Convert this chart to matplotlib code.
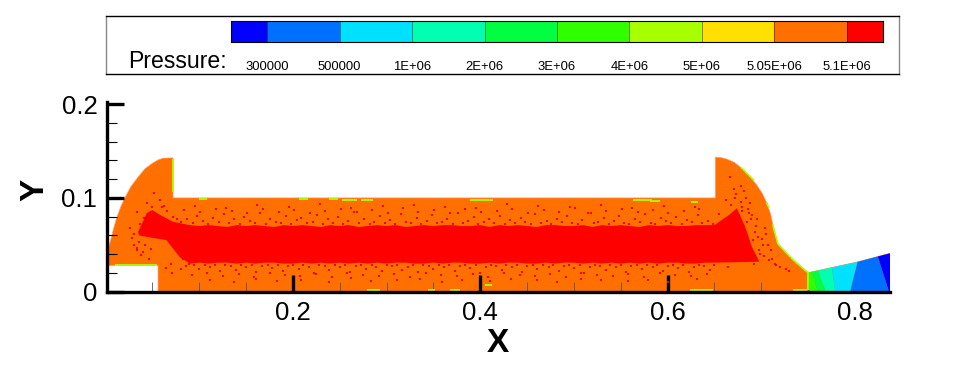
import matplotlib
matplotlib.use("Agg")
import matplotlib.pyplot as plt
from matplotlib.patches import Polygon
from matplotlib.ticker import MultipleLocator, FixedLocator

plt.rcParams["font.family"] = ["Liberation Sans", "DejaVu Sans"]

# contour legend
level_labels = ["300000", "500000", "1E+06", "2E+06", "3E+06", "4E+06", "5E+06", "5.05E+06", "5.1E+06"]
level_colors = ["#0000ff", "#0070ff", "#00e0ff", "#00ffb0", "#00ff40", "#30ff00", "#a8ff00", "#ffe000", "#ff7000", "#ff0000"]

# flow domain outline
wall_x = [0.0015, 0.002, 0.004, 0.0064, 0.009, 0.012, 0.016, 0.0206, 0.027, 0.0345, 0.042, 0.05, 0.056, 0.0613, 0.067,
          0.072, 0.072, 0.651, 0.651, 0.657, 0.663, 0.671, 0.679, 0.687, 0.695, 0.701, 0.706, 0.71, 0.7125, 0.715,
          0.718, 0.734, 0.75, 0.802, 0.8375, 0.8375, 0.056, 0.056, 0.0015]
wall_y = [0.028, 0.041, 0.05, 0.0587, 0.069, 0.079, 0.09, 0.1, 0.112, 0.122, 0.131, 0.137, 0.1405, 0.1423, 0.1426,
          0.1426, 0.1, 0.1, 0.1435, 0.143, 0.1415, 0.138, 0.132, 0.124, 0.114, 0.105, 0.0946, 0.083, 0.071, 0.061,
          0.0508, 0.034, 0.0203, 0.0316, 0.041, 0.0, 0.0, 0.028, 0.028]

# red core, left end, upper edge, right end, lower edge
core_upper_x = [0.09, 0.10, 0.11, 0.12, 0.13, 0.14, 0.15, 0.16, 0.17, 0.18, 0.19, 0.20, 0.21, 0.22, 0.23, 0.24,
                0.25, 0.26, 0.27, 0.28, 0.29, 0.30, 0.31, 0.32, 0.33, 0.34, 0.35, 0.36, 0.37, 0.38, 0.39, 0.40,
                0.41, 0.42, 0.43, 0.44, 0.45, 0.46, 0.47, 0.48, 0.49, 0.50, 0.51, 0.52, 0.53, 0.54, 0.55, 0.56,
                0.57, 0.58, 0.59, 0.60, 0.61, 0.62, 0.63, 0.64, 0.65]
core_upper_y = [0.071, 0.070, 0.071, 0.070, 0.069, 0.071, 0.070, 0.071, 0.070, 0.069, 0.071, 0.070, 0.071, 0.070,
                0.069, 0.071, 0.070, 0.071, 0.069, 0.070, 0.071, 0.070, 0.071, 0.069, 0.070, 0.071, 0.070, 0.071,
                0.071, 0.070, 0.070, 0.071, 0.069, 0.071, 0.070, 0.071, 0.070, 0.069, 0.071, 0.071, 0.070, 0.070,
                0.071, 0.069, 0.071, 0.070, 0.071, 0.070, 0.069, 0.071, 0.070, 0.071, 0.070, 0.070, 0.071, 0.071, 0.071]
core_lower_y = [0.030, 0.031, 0.030, 0.031, 0.031, 0.030, 0.031, 0.030, 0.031, 0.031, 0.030, 0.030, 0.031, 0.030,
                0.031, 0.030, 0.031, 0.030, 0.031, 0.030, 0.031, 0.030, 0.031, 0.031, 0.030, 0.030, 0.031, 0.030,
                0.031, 0.031, 0.030, 0.030, 0.031, 0.030, 0.031, 0.031, 0.030, 0.030, 0.031, 0.030, 0.031, 0.031,
                0.030, 0.031, 0.030, 0.031, 0.030, 0.031, 0.030, 0.031, 0.030, 0.031, 0.031, 0.030, 0.030, 0.031, 0.031]
core_left_x = [0.079, 0.065, 0.047, 0.036, 0.0345, 0.04, 0.044, 0.05, 0.058, 0.072]
core_left_y = [0.037, 0.055, 0.058, 0.060, 0.0636, 0.075, 0.084, 0.087, 0.082, 0.0745]
core_right_x = [0.666, 0.674, 0.683, 0.69, 0.698]
core_right_y = [0.082, 0.089, 0.069, 0.048, 0.032]

# isolated red cells just above the core
speck_top_x = [0.081, 0.087, 0.093, 0.098, 0.104, 0.109, 0.115, 0.121, 0.126, 0.132, 0.137, 0.143, 0.148, 0.154, 0.159,
               0.165, 0.171, 0.176, 0.182, 0.187, 0.193, 0.198, 0.204, 0.209, 0.215, 0.221, 0.226, 0.232, 0.237, 0.243,
               0.248, 0.254, 0.259, 0.265, 0.271, 0.276, 0.282, 0.287, 0.293, 0.298, 0.304, 0.309, 0.315, 0.321, 0.326,
               0.332, 0.337, 0.343, 0.348, 0.354, 0.359, 0.365, 0.371, 0.376, 0.382, 0.387, 0.393, 0.398, 0.404, 0.409,
               0.415, 0.421, 0.426, 0.432, 0.437, 0.443, 0.448, 0.454, 0.459, 0.465, 0.471, 0.476, 0.482, 0.487, 0.493,
               0.498, 0.504, 0.509, 0.515, 0.521, 0.526, 0.532, 0.537, 0.543, 0.548, 0.554, 0.559, 0.565, 0.571, 0.576,
               0.582, 0.587, 0.593, 0.598, 0.604, 0.609, 0.615, 0.621, 0.626, 0.632, 0.637, 0.643, 0.648,
               0.084, 0.101, 0.118, 0.135, 0.151, 0.168, 0.185, 0.201, 0.218, 0.234, 0.251, 0.268, 0.284, 0.301, 0.318,
               0.334, 0.351, 0.368, 0.384, 0.401, 0.418, 0.434, 0.451, 0.468, 0.484, 0.501, 0.518, 0.534, 0.551, 0.568,
               0.584, 0.601, 0.618, 0.634,
               0.095, 0.129, 0.162, 0.196, 0.229, 0.262, 0.296, 0.329, 0.362, 0.396, 0.429, 0.462, 0.496, 0.529, 0.562,
               0.596, 0.629]
speck_top_y = [0.074, 0.078, 0.073, 0.081, 0.075, 0.072, 0.079, 0.074, 0.083, 0.073, 0.077, 0.072, 0.08, 0.075, 0.073,
               0.084, 0.072, 0.078, 0.074, 0.073, 0.081, 0.072, 0.076, 0.079, 0.073, 0.074, 0.082, 0.072, 0.077, 0.073,
               0.08, 0.072, 0.075, 0.085, 0.073, 0.078, 0.072, 0.074, 0.081, 0.073, 0.076, 0.072, 0.083, 0.074, 0.073,
               0.079, 0.072, 0.075, 0.082, 0.073, 0.074, 0.077, 0.072, 0.084, 0.073, 0.075, 0.08, 0.072, 0.074, 0.078,
               0.073, 0.081, 0.072, 0.076, 0.073, 0.079, 0.074, 0.072, 0.083, 0.073, 0.075, 0.072, 0.078, 0.074, 0.081,
               0.073, 0.072, 0.076, 0.084, 0.073, 0.074, 0.079, 0.072, 0.075, 0.081, 0.073, 0.072, 0.077, 0.074, 0.083,
               0.073, 0.072, 0.079, 0.075, 0.073, 0.08, 0.072, 0.076, 0.074, 0.082, 0.073, 0.075, 0.072,
               0.087, 0.085, 0.088, 0.086, 0.084, 0.088, 0.085, 0.087, 0.084, 0.086, 0.088, 0.085, 0.087, 0.084, 0.089,
               0.085, 0.087, 0.084, 0.088, 0.085, 0.086, 0.088, 0.084, 0.087, 0.085, 0.089, 0.084, 0.086, 0.088, 0.085,
               0.087, 0.084, 0.086, 0.088,
               0.091, 0.089, 0.092, 0.09, 0.093, 0.089, 0.091, 0.092, 0.09, 0.089, 0.093, 0.091, 0.09, 0.092, 0.089,
               0.091, 0.09]

# isolated red cells just below the core
speck_low_x = [0.083, 0.089, 0.094, 0.1, 0.106, 0.111, 0.117, 0.122, 0.128, 0.134, 0.139, 0.145, 0.15, 0.156, 0.161,
               0.167, 0.173, 0.178, 0.184, 0.189, 0.195, 0.2, 0.206, 0.211, 0.217, 0.223, 0.228, 0.234, 0.239, 0.245,
               0.25, 0.256, 0.261, 0.267, 0.273, 0.278, 0.284, 0.289, 0.295, 0.3, 0.306, 0.311, 0.317, 0.323, 0.328,
               0.334, 0.339, 0.345, 0.35, 0.356, 0.361, 0.367, 0.373, 0.378, 0.384, 0.389, 0.395, 0.4, 0.406, 0.411,
               0.417, 0.423, 0.428, 0.434, 0.439, 0.445, 0.45, 0.456, 0.461, 0.467, 0.473, 0.478, 0.484, 0.489, 0.495,
               0.5, 0.506, 0.511, 0.517, 0.523, 0.528, 0.534, 0.539, 0.545, 0.55, 0.556, 0.561, 0.567, 0.573, 0.578,
               0.584, 0.589, 0.595, 0.6, 0.606, 0.611, 0.617, 0.623, 0.628, 0.634, 0.639, 0.645, 0.65,
               0.092, 0.108, 0.125, 0.142, 0.158, 0.175, 0.192, 0.208, 0.225, 0.242, 0.258, 0.275, 0.292, 0.308, 0.325,
               0.342, 0.358, 0.375, 0.392, 0.408, 0.425, 0.442, 0.458, 0.475, 0.492, 0.508, 0.525, 0.542, 0.558, 0.575,
               0.592, 0.608, 0.625, 0.642,
               0.112, 0.137, 0.161, 0.183, 0.209, 0.238, 0.262, 0.283, 0.311, 0.336, 0.359, 0.381, 0.41, 0.433, 0.461,
               0.482, 0.508, 0.529, 0.558, 0.579, 0.601, 0.631]
speck_low_y = [0.035, 0.03, 0.028, 0.024, 0.028, 0.026, 0.029, 0.022, 0.028, 0.027, 0.023, 0.029, 0.026, 0.028, 0.021,
               0.027, 0.029, 0.025, 0.028, 0.022, 0.027, 0.029, 0.024, 0.028, 0.026, 0.02, 0.029, 0.027, 0.023, 0.028,
               0.026, 0.029, 0.021, 0.027, 0.028, 0.024, 0.029, 0.026, 0.022, 0.028, 0.027, 0.029, 0.023, 0.026, 0.028,
               0.021, 0.029, 0.027, 0.024, 0.028, 0.026, 0.029, 0.022, 0.027, 0.028, 0.025, 0.029, 0.02, 0.026, 0.028,
               0.027, 0.023, 0.029, 0.026, 0.028, 0.021, 0.027, 0.029, 0.024, 0.028, 0.026, 0.029, 0.022, 0.027, 0.028,
               0.025, 0.029, 0.02, 0.026, 0.028, 0.027, 0.023, 0.029, 0.026, 0.028, 0.021, 0.027, 0.029, 0.024, 0.028,
               0.026, 0.029, 0.022, 0.027, 0.028, 0.025, 0.029, 0.021, 0.026, 0.028, 0.027, 0.023, 0.029,
               0.018, 0.02, 0.017, 0.019, 0.016, 0.02, 0.018, 0.017, 0.019, 0.016, 0.02, 0.018, 0.017, 0.019, 0.016,
               0.02, 0.018, 0.017, 0.019, 0.016, 0.02, 0.018, 0.017, 0.019, 0.016, 0.02, 0.018, 0.017, 0.019, 0.016,
               0.02, 0.018, 0.017, 0.019,
               0.013, 0.01, 0.014, 0.011, 0.013, 0.01, 0.015, 0.011, 0.013, 0.014, 0.01, 0.013, 0.011, 0.014, 0.012,
               0.01, 0.014, 0.012, 0.011, 0.013, 0.01, 0.014]

# red cells scattered round both ends of the chamber
speck_end_x = [0.03, 0.034, 0.038, 0.042, 0.046, 0.03, 0.037, 0.044, 0.05, 0.026, 0.033, 0.041, 0.052, 0.058, 0.062,
               0.028, 0.033, 0.036, 0.04, 0.048, 0.054, 0.06, 0.066, 0.072, 0.076, 0.07, 0.065, 0.08, 0.071, 0.086,
               0.655, 0.662, 0.668, 0.673, 0.678, 0.682, 0.686, 0.676, 0.67, 0.69, 0.694, 0.697, 0.702, 0.699, 0.692,
               0.688, 0.68, 0.705, 0.71, 0.685, 0.675, 0.665, 0.708, 0.715, 0.726, 0.672, 0.68, 0.684, 0.689, 0.693,
               0.696, 0.701, 0.704, 0.687, 0.691, 0.698, 0.703, 0.707, 0.711, 0.716, 0.72, 0.73, 0.678, 0.671, 0.667]
speck_end_y = [0.05, 0.044, 0.039, 0.05, 0.035, 0.062, 0.072, 0.095, 0.09, 0.068, 0.085, 0.079, 0.105, 0.098, 0.091,
               0.057, 0.047, 0.053, 0.042, 0.046, 0.065, 0.09, 0.086, 0.08, 0.078, 0.03, 0.025, 0.024, 0.02, 0.027,
               0.083, 0.098, 0.092, 0.104, 0.096, 0.107, 0.088, 0.082, 0.075, 0.082, 0.07, 0.058, 0.05, 0.04, 0.03,
               0.095, 0.086, 0.062, 0.044, 0.074, 0.036, 0.026, 0.034, 0.03, 0.024, 0.1, 0.09, 0.1, 0.078, 0.064,
               0.077, 0.056, 0.068, 0.084, 0.055, 0.045, 0.038, 0.05, 0.035, 0.028, 0.026, 0.022, 0.113, 0.11, 0.122]

# lime streaks along the walls, given as start, end, height
streak_x0 = [0.01, 0.207, 0.238, 0.252, 0.273, 0.389, 0.563, 0.581, 0.625, 0.279, 0.344, 0.368, 0.405, 0.624, 0.734, 0.1]
streak_x1 = [0.055, 0.216, 0.248, 0.268, 0.285, 0.414, 0.583, 0.592, 0.632, 0.293, 0.352, 0.378, 0.413, 0.648, 0.749, 0.108]
streak_y = [0.0285, 0.0985, 0.0985, 0.098, 0.098, 0.098, 0.098, 0.097, 0.096, 0.002, 0.002, 0.002, 0.007, 0.002, 0.002, 0.0985]
vstreak_x = [0.0715, 0.7495]
vstreak_y0 = [0.106, 0.002]
vstreak_y1 = [0.141, 0.02]

# lime lines on the right hand wall
wall_lime_x = [[0.679, 0.687, 0.692], [0.706, 0.708], [0.7125, 0.715, 0.718, 0.734, 0.75]]
wall_lime_y = [[0.132, 0.124, 0.119], [0.0946, 0.09], [0.071, 0.061, 0.0508, 0.034, 0.0203]]

# nozzle bands, boundary x at the wall and at the axis
band_wall_x = [0.7505, 0.754, 0.7605, 0.7755, 0.803, 0.8245, 0.85]
band_wall_y = [0.0204, 0.0212, 0.0226, 0.0258, 0.0319, 0.0376, 0.045]
band_axis_x = [0.7515, 0.7605, 0.769, 0.779, 0.795, 0.8365, 0.85]
band_colors = ["#30ff00", "#00ff40", "#00ffb0", "#00e0ff", "#0070ff", "#0000ff"]

fig = plt.figure(figsize=(9.6, 3.65), dpi=100)
W, H = 960.0, 365.0


def px_axes(left, top, right, bottom):
	return fig.add_axes([left / W, 1 - bottom / H, (right - left) / W, (bottom - top) / H])


# legend frame
box = px_axes(106, 16, 899, 74)
box.set_xticks([])
box.set_yticks([])
for s in box.spines.values():
	s.set_linewidth(1)
	s.set_color("black")
box.spines["left"].set_color("#888888")
box.spines["right"].set_color("#888888")

bar = px_axes(231, 21, 883, 42)
edges = [-0.5] + list(range(len(level_labels))) + [len(level_labels) - 0.5]
for i in range(len(level_colors)):
	bar.axvspan(edges[i] + 0.5, edges[i + 1] + 0.5, color=level_colors[i], lw=0)
	if i > 0:
		bar.axvline(edges[i] + 0.5, color="black", lw=0.5, alpha=0.6)
bar.set_xlim(0, len(level_labels))
bar.set_ylim(0, 1)
bar.set_xticks([])
bar.set_yticks([])
for s in bar.spines.values():
	s.set_linewidth(0.8)
for i, lab in enumerate(level_labels):
	bar.annotate(lab, (i + 0.5, 0), xytext=(0, -24.5 * 0.72), textcoords="offset points", ha="center", va="center",
				 fontsize=9.4, annotation_clip=False)
fig.text(128 / W, 1 - 62 / H, "Pressure:", fontsize=16.6, ha="left", va="center")

# main plot
ax = px_axes(107, 102, 890, 291.7)
ax.set_xlim(0.0015, 0.8375)
ax.set_ylim(0, 0.2023)

outline = Polygon(list(zip(wall_x, wall_y)), closed=True, facecolor=level_colors[8], edgecolor="#ff9a60", lw=0.5, zorder=1)
ax.add_patch(outline)

for i in range(len(band_colors)):
	j = i + 1
	band = Polygon([(band_axis_x[i], 0), (band_wall_x[i], band_wall_y[i]), (band_wall_x[i], 0.06),
					(band_wall_x[j], 0.06), (band_wall_x[j], band_wall_y[j]), (band_axis_x[j], 0)], closed=True,
				   facecolor=band_colors[i], lw=0, zorder=2)
	ax.add_patch(band)
	band.set_clip_path(outline)

core_x = core_left_x + core_upper_x + core_right_x + core_upper_x[::-1]
core_y = core_left_y + core_upper_y + core_right_y + core_lower_y[::-1]
ax.fill(core_x, core_y, color=level_colors[9], lw=0, zorder=3)
ax.scatter(speck_top_x, speck_top_y, marker="s", s=3, color=level_colors[9], linewidths=0, zorder=3)
ax.scatter(speck_low_x, speck_low_y, marker="s", s=3, color=level_colors[9], linewidths=0, zorder=3)
ax.scatter(speck_end_x, speck_end_y, marker="s", s=3, color=level_colors[9], linewidths=0, zorder=3)

ax.hlines(streak_y, streak_x0, streak_x1, color=level_colors[6], lw=1.3, zorder=3)
ax.vlines(vstreak_x, vstreak_y0, vstreak_y1, color=level_colors[6], lw=1.3, zorder=3)
for xs, ys in zip(wall_lime_x, wall_lime_y):
	ax.plot(xs, ys, color=level_colors[6], lw=1.2, zorder=3)

for s in ["top", "right"]:
	ax.spines[s].set_visible(False)
for s in ["left", "bottom"]:
	ax.spines[s].set_linewidth(2.4)
	ax.spines[s].set_zorder(6)

ax.xaxis.set_major_locator(FixedLocator([0.2, 0.4, 0.6, 0.8]))
ax.xaxis.set_minor_locator(MultipleLocator(0.05))
ax.yaxis.set_major_locator(FixedLocator([0, 0.1, 0.2]))
ax.yaxis.set_minor_locator(MultipleLocator(0.02))
ax.set_xticklabels(["0.2", "0.4", "0.6", "0.8"])
ax.set_yticklabels(["0", "0.1", "0.2"])
ax.tick_params(axis="both", which="major", direction="in", length=12.5, width=2.4, labelsize=18.5, pad=7, zorder=5)
ax.tick_params(axis="x", which="minor", direction="in", length=7, width=0.6, color="#555555", zorder=5)
ax.tick_params(axis="y", which="minor", direction="in", length=7, width=0.8, zorder=5)
ax.patch.set_alpha(0)

fig.text(498 / W, 1 - 343 / H, "X", fontsize=24, fontweight="bold", ha="center", va="center")
fig.text(35 / W, 1 - 190 / H, "Y", fontsize=24, fontweight="bold", rotation=90, ha="center", va="center")

fig.savefig("out.png", dpi=100)
